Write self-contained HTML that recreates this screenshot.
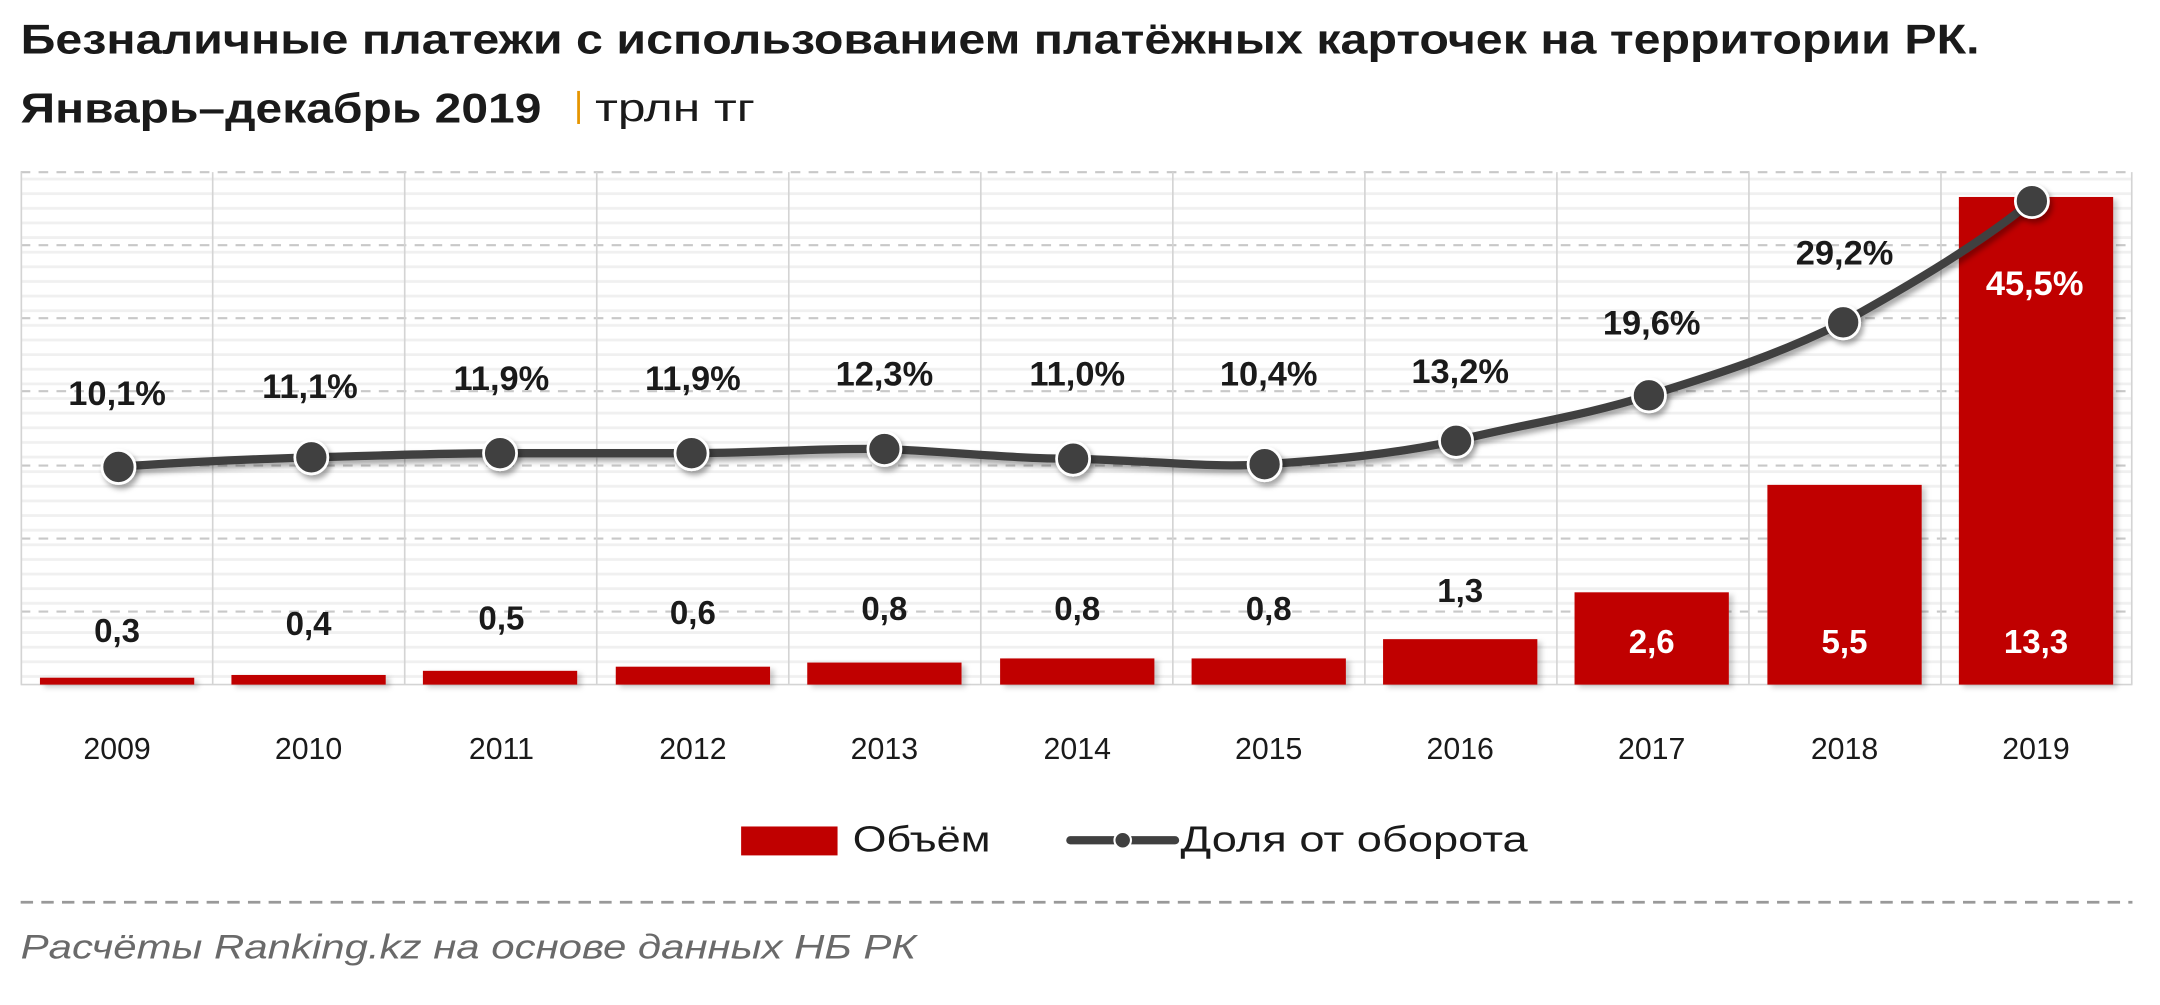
<!DOCTYPE html>
<html><head><meta charset="utf-8"><style>
html,body{margin:0;padding:0;background:#fff;width:2160px;height:1005px;overflow:hidden}
svg{display:block}
text{font-family:"Liberation Sans","DejaVu Sans",sans-serif}
</style></head><body>
<svg width="2160" height="1005" viewBox="0 0 1568 729.6" preserveAspectRatio="none">
<defs>
<pattern id="minor" x="0" y="125" width="20" height="10.62" patternUnits="userSpaceOnUse">
<rect x="0" y="4" width="20" height="2" fill="#f0f0f0"/>
</pattern>
<filter id="sh" x="-30%" y="-30%" width="170%" height="170%"><feDropShadow dx="2" dy="3" stdDeviation="2" flood-color="#000" flood-opacity="0.35"/></filter>
<filter id="bs" x="-10%" y="-10%" width="130%" height="130%"><feDropShadow dx="3" dy="2" stdDeviation="2" flood-color="#000" flood-opacity="0.2"/></filter>
</defs>
<text x="15" y="39" font-size="30" font-weight="bold" fill="#1a1a1a" textLength="1422" lengthAdjust="spacingAndGlyphs">Безналичные платежи  с использованием платёжных карточек на территории РК.</text>
<text x="15" y="89" font-size="30" font-weight="bold" fill="#1a1a1a" textLength="378" lengthAdjust="spacingAndGlyphs">Январь–декабрь 2019</text>
<rect x="419" y="66" width="2" height="24" fill="#e69500"/>
<text x="432" y="88" font-size="28" fill="#1a1a1a" textLength="116" lengthAdjust="spacingAndGlyphs">трлн тг</text>
<rect x="15" y="125" width="1533" height="372" fill="url(#minor)"/>
<g stroke="#c8c8c8" stroke-width="1.5" stroke-dasharray="7,6">
<line x1="15" y1="125" x2="1548" y2="125"/><line x1="15" y1="178" x2="1548" y2="178"/><line x1="15" y1="231" x2="1548" y2="231"/><line x1="15" y1="284" x2="1548" y2="284"/><line x1="15" y1="338" x2="1548" y2="338"/><line x1="15" y1="391" x2="1548" y2="391"/><line x1="15" y1="444" x2="1548" y2="444"/>
</g>
<g stroke="#d4d4d4" stroke-width="1.2">
<line x1="15.5" y1="125" x2="15.5" y2="497"/><line x1="154.4" y1="125" x2="154.4" y2="497"/><line x1="293.8" y1="125" x2="293.8" y2="497"/><line x1="433.2" y1="125" x2="433.2" y2="497"/><line x1="572.6" y1="125" x2="572.6" y2="497"/><line x1="712" y1="125" x2="712" y2="497"/><line x1="851.4" y1="125" x2="851.4" y2="497"/><line x1="990.8" y1="125" x2="990.8" y2="497"/><line x1="1130.2" y1="125" x2="1130.2" y2="497"/><line x1="1269.6" y1="125" x2="1269.6" y2="497"/><line x1="1409" y1="125" x2="1409" y2="497"/><line x1="1547.5" y1="125" x2="1547.5" y2="497"/>
<line x1="15" y1="497" x2="1548" y2="497"/>
</g>
<g fill="#c00000" filter="url(#bs)">
<rect x="29" y="492" width="112" height="5"/><rect x="168" y="490" width="112" height="7"/><rect x="307" y="487" width="112" height="10"/><rect x="447" y="484" width="112" height="13"/><rect x="586" y="481" width="112" height="16"/><rect x="726" y="478" width="112" height="19"/><rect x="865" y="478" width="112" height="19"/><rect x="1004" y="464" width="112" height="33"/><rect x="1143" y="430" width="112" height="67"/><rect x="1283" y="352" width="112" height="145"/><rect x="1422" y="143" width="112" height="354"/>
</g>
<g font-size="24" font-weight="bold" text-anchor="middle" fill="#1a1a1a">
<text x="85" y="466">0,3</text><text x="224" y="461">0,4</text><text x="364" y="457">0,5</text><text x="503" y="453">0,6</text><text x="642" y="450">0,8</text><text x="782" y="450">0,8</text><text x="921" y="450">0,8</text><text x="1060" y="437">1,3</text>
<text x="1199" y="474" fill="#fff">2,6</text><text x="1339" y="474" fill="#fff">5,5</text><text x="1478" y="474" fill="#fff">13,3</text>
</g>
<path d="M86,339 C120,336 190,333 226,332 C270,331 320,329 363,329 C410,329 460,329 502,329 C550,329 600,325 642,326 C690,328 735,333 779,333 C830,334 880,340 918,337 C965,334 1010,330 1057,320 C1105,308 1150,302 1197,287 C1245,272 1290,258 1338,234 C1390,205 1440,175 1475,146" fill="none" stroke="#404040" stroke-width="6" stroke-linecap="round" filter="url(#sh)"/>
<g fill="#404040" stroke="#fff" stroke-width="2" filter="url(#sh)">
<circle cx="86" cy="339" r="12"/><circle cx="226" cy="332" r="12"/><circle cx="363" cy="329" r="12"/><circle cx="502" cy="329" r="12"/><circle cx="642" cy="326" r="12"/><circle cx="779" cy="333" r="12"/><circle cx="918" cy="337" r="12"/><circle cx="1057" cy="320" r="12"/><circle cx="1197" cy="287" r="12"/><circle cx="1338" cy="234" r="12"/><circle cx="1475" cy="146" r="12"/>
</g>
<g font-size="25" font-weight="bold" text-anchor="middle" fill="#1a1a1a">
<text x="85" y="294">10,1%</text><text x="225" y="289">11,1%</text><text x="364" y="283">11,9%</text><text x="503" y="283">11,9%</text><text x="642" y="280">12,3%</text><text x="782" y="280">11,0%</text><text x="921" y="280">10,4%</text><text x="1060" y="278">13,2%</text><text x="1199" y="243">19,6%</text><text x="1339" y="192">29,2%</text><text x="1477" y="214" fill="#fff">45,5%</text>
</g>
<g font-size="22" text-anchor="middle" fill="#1a1a1a">
<text x="85" y="551">2009</text><text x="224" y="551">2010</text><text x="364" y="551">2011</text><text x="503" y="551">2012</text><text x="642" y="551">2013</text><text x="782" y="551">2014</text><text x="921" y="551">2015</text><text x="1060" y="551">2016</text><text x="1199" y="551">2017</text><text x="1339" y="551">2018</text><text x="1478" y="551">2019</text>
</g>
<rect x="538" y="600" width="70" height="21" fill="#c00000"/>
<text x="619" y="618" font-size="26" fill="#1a1a1a" textLength="100" lengthAdjust="spacingAndGlyphs">Объём</text>
<line x1="777" y1="610" x2="853" y2="610" stroke="#404040" stroke-width="6" stroke-linecap="round"/>
<circle cx="815" cy="610" r="6" fill="#404040" stroke="#fff" stroke-width="1.5"/>
<text x="857" y="618" font-size="26" fill="#1a1a1a" textLength="252" lengthAdjust="spacingAndGlyphs">Доля от оборота</text>
<line x1="15" y1="655" x2="1548" y2="655" stroke="#999" stroke-width="2" stroke-dasharray="9,6"/>
<text x="15" y="696" font-size="25" font-style="italic" fill="#6a6a6a" textLength="650" lengthAdjust="spacingAndGlyphs">Расчёты Ranking.kz на основе данных  НБ РК</text>
</svg>
</body></html>
